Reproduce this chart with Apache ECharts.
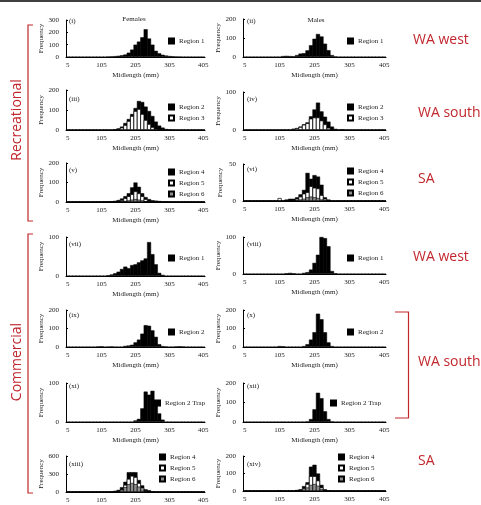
<!DOCTYPE html>
<html><head><meta charset="utf-8">
<script src="https://cdn.jsdelivr.net/npm/echarts@6.0.0/dist/echarts.min.js"></script>
<style>html,body{margin:0;padding:0;background:#fff}#c{width:481px;height:505px}</style>
</head><body><div id="c"></div>
<script>
// ---- categories (10 mm midlength bins) ----
const midlengths = ['5','15','25','35','45','55','65','75','85','95','105','115','125','135','145','155','165','175','185','195','205','215','225','235','245','255','265','275','285','295','305','315','325','335','345','355','365','375','385','395','405'];

// ---- Recreational ----
const recFemWestR1 = [0,0,0,0,0,0,0,0,0,0, 0,0,4,5,7,10,14,20,35,60, 100,125,160,225,150,100,50,30,18,12, 8,6,4,3,0,0,0,0,0,0, 0];
const recMalWestR1 = [0,0,0,0,0,0,0,0,0,0, 0,5,6,5,4,10,18,20,35,62, 96,121,108,70,36,10,3,0,0,0, 0,0,0,0,0,0,0,0,0,0, 0];
const recFemSouthR2 = [0,0,0,0,0,0,0,0,0,0, 0,0,0,0,4,8,17,35,55,80, 110,145,140,117,95,70,42,22,12,5, 3,2,0,0,0,0,0,0,0,0, 0];
const recFemSouthR3 = [0,0,0,0,0,0,0,0,0,0, 0,0,0,0,0,5,12,25,45,70, 95,105,80,50,30,15,6,2,0,0, 0,0,0,0,0,0,0,0,0,0, 0];
const recMalSouthR2 = [0,0,0,0,0,0,0,0,0,0, 0,0,0,0,3,5,9,15,20,36, 54,72,49,35,22,9,3,0,2,0, 0,0,0,0,0,0,0,0,0,0, 0];
const recMalSouthR3 = [0,0,0,0,0,0,0,0,0,0, 0,0,0,0,3,5,8,14,18,30, 33,33,25,15,6,2,0,0,0,0, 0,0,0,0,0,0,0,0,0,0, 0];
const recFemSAR4 = [0,0,0,0,0,0,0,0,0,0, 2,3,3,4,6,10,18,30,45,75, 100,78,45,25,15,9,7,5,3,3, 2,0,0,0,0,0,0,0,0,0, 0];
const recFemSAR5 = [0,0,0,0,0,0,0,0,0,0, 0,0,0,0,0,5,10,20,30,40, 55,45,30,15,6,3,0,0,0,0, 0,0,0,0,0,0,0,0,0,0, 0];
const recFemSAR6 = [0,0,0,0,0,0,0,0,0,0, 0,0,0,0,0,0,0,5,8,12, 15,12,8,4,0,0,0,0,0,0, 0,0,0,0,0,0,0,0,0,0, 0];
const recMalSAR4 = [0,0,0,0,0,0,0,0,0,0, 0,0,2,3,3,5,9,15,38,30, 35,33,22,5,2,0,0,0,0,0, 0,0,0,0,0,0,0,0,0,0, 0];
const recMalSAR5 = [0,0,0,0,0,0,0,0,0,0, 4,0,0,0,0,3,6,10,12,20, 18,17,8,3,0,0,0,0,0,0, 0,0,0,0,0,0,0,0,0,0, 0];
const recMalSAR6 = [0,0,0,0,0,0,0,0,0,0, 0,0,0,0,0,0,2,3,5,6, 5,4,2,0,0,0,0,0,0,0, 0,0,0,0,0,0,0,0,0,0, 0];

// ---- Commercial ----
const comFemWestR1 = [0,0,0,0,0,0,0,0,0,0, 0,0,2,4,7,11,18,24,20,28, 30,35,40,45,87,56,30,8,3,0, 0,0,0,0,0,0,0,0,0,0, 0];
const comMalWestR1 = [0,0,0,0,0,0,0,0,0,0, 0,0,2,3,2,0,0,3,5,12, 30,52,100,97,75,8,2,0,0,0, 0,0,0,0,0,0,0,0,0,0, 0];
const comFemSouthR2 = [0,0,0,0,0,0,0,0,0,3, 4,0,2,3,0,0,0,6,8,12, 25,40,72,118,115,90,55,15,5,3, 0,0,3,4,3,0,0,0,0,0, 0];
const comMalSouthR2 = [0,0,0,0,0,0,0,0,0,0, 5,4,0,0,0,0,0,5,15,40, 80,180,150,80,25,5,0,0,0,0, 0,0,0,0,0,0,0,0,0,0, 0];
const comFemSouthTrap = [0,0,0,0,0,0,0,0,0,0, 0,0,0,0,0,0,0,0,0,0, 4,8,35,78,70,80,45,22,6,0, 0,0,0,0,0,0,0,0,0,0, 0];
const comMalSouthTrap = [0,0,0,0,0,0,0,0,0,0, 0,0,0,0,0,0,0,0,3,15, 65,150,122,55,15,3,0,0,0,0, 0,0,0,0,0,0,0,0,0,0, 0];
const comFemSAR4 = [0,0,0,0,0,0,0,0,0,0, 0,0,0,8,20,35,80,170,330,330, 330,200,110,45,30,10,0,0,0,0, 0,0,0,0,0,0,0,0,0,0, 0];
const comFemSAR5 = [0,0,0,0,0,0,0,0,0,0, 0,0,0,0,0,0,40,120,220,270, 250,150,70,25,0,0,0,0,0,0, 0,0,0,0,0,0,0,0,0,0, 0];
const comFemSAR6 = [0,0,0,0,0,0,0,0,0,0, 0,0,0,0,0,0,40,80,130,150, 130,90,40,15,0,0,0,0,0,0, 0,0,0,0,0,0,0,0,0,0, 0];
const comMalSAR4 = [0,0,0,0,0,0,0,0,0,0, 4,0,0,0,0,6,10,28,50,139, 150,100,35,10,3,0,0,0,0,0, 0,0,0,0,0,0,0,0,0,0, 0];
const comMalSAR5 = [0,0,0,0,0,0,0,0,0,0, 0,0,0,0,0,0,0,15,40,85, 85,60,20,5,0,0,0,0,0,0, 0,0,0,0,0,0,0,0,0,0, 0];
const comMalSAR6 = [0,0,0,0,0,0,0,0,0,0, 0,0,0,0,0,0,0,8,20,35, 40,30,10,3,0,0,0,0,0,0, 0,0,0,0,0,0,0,0,0,0, 0];

// ---- panel layout ----
const L = {x:66, w:139, tag:69};
const R = {x:243, w:143, tag:247};
const panels = [
  {tag:'(i)',    col:L, top:20,  zero:57,  max:300, step:100, s:[['Region 1',recFemWestR1]], lg:[168,37], ty:21},
  {tag:'(ii)',   col:R, top:19,  zero:57,  max:200, step:100, s:[['Region 1',recMalWestR1]], lg:[347,37], ty:21},
  {tag:'(iii)',  col:L, top:90,  zero:130, max:200, step:100, s:[['Region 2',recFemSouthR2],['Region 3',recFemSouthR3]], lg:[168,103], ty:99},
  {tag:'(iv)',   col:R, top:92,  zero:130, max:100, step:100, s:[['Region 2',recMalSouthR2],['Region 3',recMalSouthR3]], lg:[347,103], ty:99},
  {tag:'(v)',    col:L, top:163, zero:202, max:200, step:100, s:[['Region 4',recFemSAR4],['Region 5',recFemSAR5],['Region 6',recFemSAR6]], lg:[168,168], ty:170},
  {tag:'(vi)',   col:R, top:164, zero:201, max:50,  step:50,  s:[['Region 4',recMalSAR4],['Region 5',recMalSAR5],['Region 6',recMalSAR6]], lg:[347,167], ty:169},
  {tag:'(vii)',  col:L, top:237, zero:276, max:100, step:100, s:[['Region 1',comFemWestR1]], lg:[168,254], ty:244},
  {tag:'(viii)', col:R, top:237, zero:274, max:100, step:100, s:[['Region 1',comMalWestR1]], lg:[347,254], ty:244},
  {tag:'(ix)',   col:L, top:310, zero:347, max:200, step:100, s:[['Region 2',comFemSouthR2]], lg:[168,328], ty:315},
  {tag:'(x)',    col:R, top:310, zero:347, max:200, step:100, s:[['Region 2',comMalSouthR2]], lg:[347,328], ty:315},
  {tag:'(xi)',   col:L, top:383, zero:422, max:100, step:100, s:[['Region 2 Trap',comFemSouthTrap]], lg:[154,399], ty:386},
  {tag:'(xii)',  col:R, top:383, zero:422, max:200, step:100, s:[['Region 2 Trap',comMalSouthTrap]], lg:[330,399], ty:386},
  {tag:'(xiii)', col:L, top:456, zero:492, max:600, step:300, s:[['Region 4',comFemSAR4],['Region 5',comFemSAR5],['Region 6',comFemSAR6]], lg:[159,453], ty:464},
  {tag:'(xiv)',  col:R, top:456, zero:491, max:200, step:100, s:[['Region 4',comMalSAR4],['Region 5',comMalSAR5],['Region 6',comMalSAR6]], lg:[338,453], ty:464}
];

const serif = 'Liberation Serif';
const ink = '#1a1a1a';
const red = '#c1272d';
const solid = {color:'#000', borderColor:'#000', borderWidth:0.5};
const styleOf = {
  'Region 1': solid,
  'Region 2': solid,
  'Region 4': solid,
  'Region 2 Trap': solid,
  'Region 3': {color:'#fff', borderColor:'#000', borderWidth:0.7},
  'Region 5': {color:'#fff', borderColor:'#000', borderWidth:0.7},
  'Region 6': {color:'#8c8c8c', borderColor:'#000', borderWidth:0.6}
};
const txt = {fontFamily:serif, fontSize:7, color:ink};

const grid = [], xAxis = [], yAxis = [], series = [], legend = [], graphic = [];
panels.forEach((p, k) => {
  grid.push({left:p.col.x, top:p.top, width:p.col.w, height:p.zero - p.top, containLabel:false, outerBoundsMode:'none'});
  xAxis.push({type:'category', gridIndex:k, data:midlengths, boundaryGap:true,
    axisLine:{lineStyle:{color:'#000', width:1}}, axisTick:{show:false},
    axisLabel:Object.assign({interval:9, margin:5}, txt),
    name:'Midlength (mm)', nameLocation:'middle', nameGap:15, nameTextStyle:txt});
  yAxis.push({type:'value', gridIndex:k, min:0, max:p.max, interval:p.step,
    axisLine:{show:true, lineStyle:{color:'#000', width:1}},
    axisTick:{show:true, inside:true, length:2, lineStyle:{color:'#000'}},
    splitLine:{show:false}, axisLabel:Object.assign({margin:7}, txt),
    name:'Frequency', nameLocation:'middle', nameGap:19, nameRotate:90, nameTextStyle:txt});
  p.s.forEach(([name, data]) => {
    series.push({type:'bar', name, xAxisIndex:k, yAxisIndex:k, data,
      barWidth:'118%', barGap:'-100%', itemStyle:styleOf[name], silent:true});
  });
  legend.push({orient:'vertical', left:p.lg[0], top:p.lg[1], padding:0, itemGap:3,
    itemWidth:5, itemHeight:5, icon:'rect', selectedMode:false,
    data:p.s.map(d => d[0]), textStyle:Object.assign({lineHeight:8}, txt)});
  graphic.push({type:'text', x:p.col.tag, y:p.ty, silent:true,
    style:{text:p.tag, fontFamily:serif, fontSize:7, fill:ink, align:'left', verticalAlign:'middle'}});
});

// column titles
graphic.push({type:'text', x:134, y:19, style:{text:'Females', fontFamily:serif, fontSize:7, fill:ink, align:'center', verticalAlign:'middle'}});
graphic.push({type:'text', x:316, y:20, style:{text:'Males', fontFamily:serif, fontSize:7, fill:ink, align:'center', verticalAlign:'middle'}});

// top rule
graphic.push({type:'line', shape:{x1:0, y1:1, x2:481, y2:1}, style:{stroke:'#000', lineWidth:1.5}});

// red annotations
const redFont = {fontFamily:'Open Sans', fontSize:14, fill:red, align:'left', verticalAlign:'middle'};
[['WA west',413,40],['WA south',418,113],['SA',418,179],['WA west',413,257],['WA south',418,362],['SA',418,461]].forEach(([t,x,y]) => {
  graphic.push({type:'text', x, y, style:Object.assign({text:t}, redFont)});
});
graphic.push({type:'text', x:17, y:120, rotation:Math.PI/2, style:{text:'Recreational', fontFamily:'Open Sans', fontSize:14, fill:red, align:'center', verticalAlign:'middle'}});
graphic.push({type:'text', x:17, y:362, rotation:Math.PI/2, style:{text:'Commercial', fontFamily:'Open Sans', fontSize:14, fill:red, align:'center', verticalAlign:'middle'}});
[[[33,25],[28,25],[28,221],[33,221]], [[33,234],[28,234],[28,493],[33,493]], [[395,312],[408.5,312],[408.5,418],[395,418]]].forEach(pts => {
  graphic.push({type:'polyline', shape:{points:pts}, style:{stroke:red, lineWidth:1.2, fill:null}});
});

const chart = echarts.init(document.getElementById('c'), null, {renderer:'canvas'});
chart.setOption({animation:false, backgroundColor:'#fff', grid, xAxis, yAxis, series, legend, graphic});
</script></body></html>
